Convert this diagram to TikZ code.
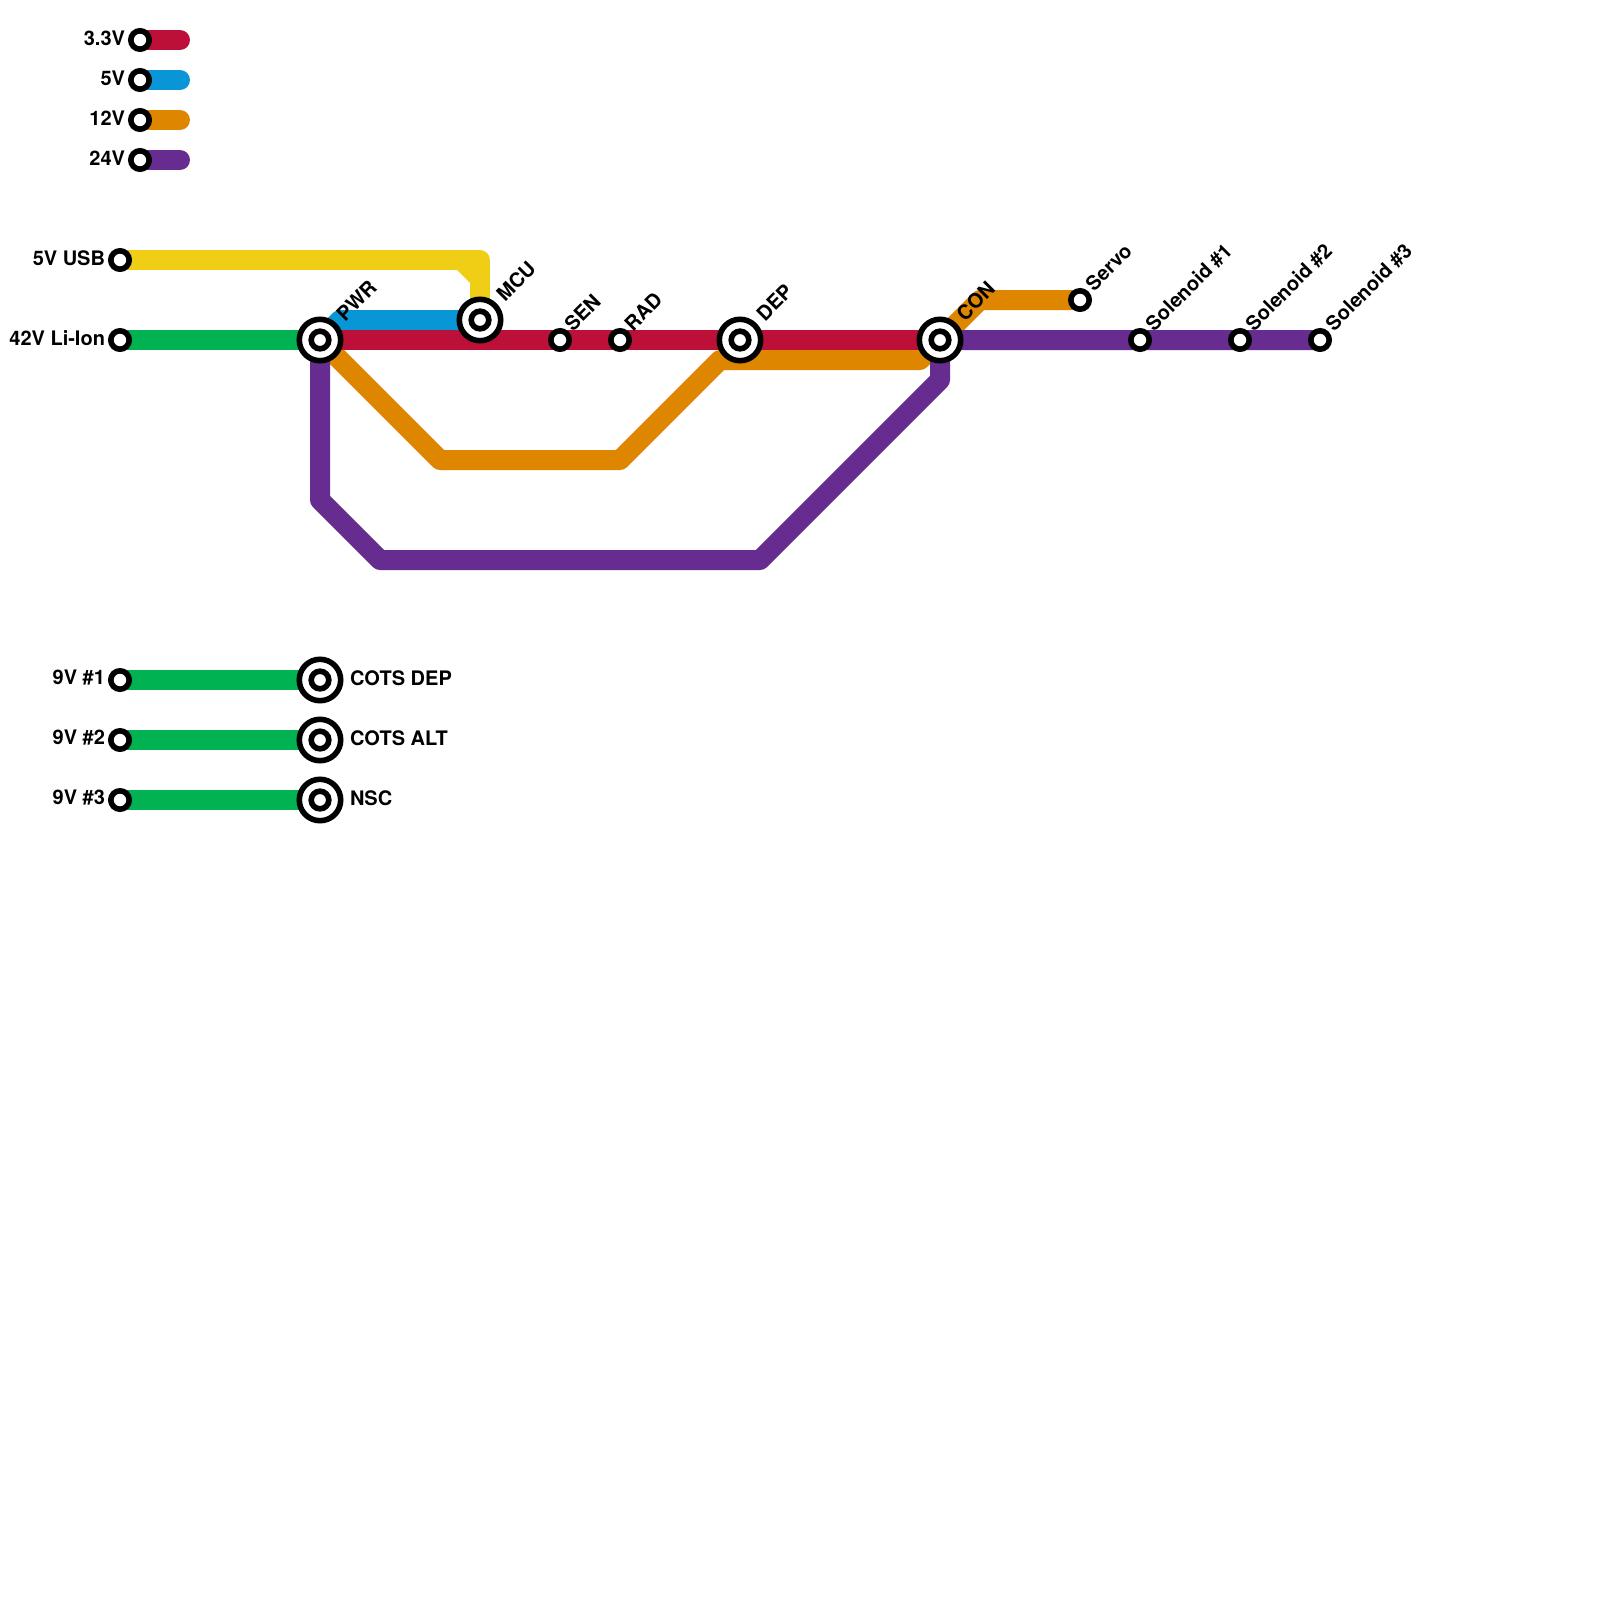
\documentclass[tikz,border=0pt]{standalone}
\usepackage{fontspec}
\setmainfont{TeX Gyre Heros}
\pgfdeclarelayer{lines}
\pgfsetlayers{lines,main}
\definecolor{cred}{HTML}{BD1038}
\definecolor{cblue}{HTML}{0896D7}
\definecolor{corange}{HTML}{DF8600}
\definecolor{cpurple}{HTML}{662C90}
\definecolor{cyellow}{HTML}{F0CE15}
\definecolor{cgreen}{HTML}{00B251}
\tikzset{
  x=0.5pt,y=-0.5pt,
  stop/.style={circle,draw=black,fill=white,line width=2.8pt,inner sep=0pt,outer sep=0pt,minimum size=9.2pt},
  hub/.style={circle,draw=black,fill=white,line width=2.8pt,inner sep=0pt,outer sep=0pt,minimum size=20.7pt,
    path picture={\draw[black,line width=2.8pt] (path picture bounding box.center) circle[radius=4.4pt];}},
  metro/.style={line width=10pt,line join=round,line cap=round},
  txt/.style={font=\bfseries\fontsize{10pt}{12pt}\selectfont,text=black,inner sep=0pt,outer sep=0pt},
  lft/.style={txt,anchor=east},
  rgt/.style={txt,anchor=west},
  dia/.style={txt,anchor=base west,rotate=45},
}
\begin{document}
\begin{tikzpicture}
\useasboundingbox (0,0) rectangle (1600,1600);
% legend
\node[stop] (l33) at (140,40) {};
\node[stop] (l5) at (140,80) {};
\node[stop] (l12) at (140,120) {};
\node[stop] (l24) at (140,160) {};
\coordinate (e33) at (180,40);
\coordinate (e5) at (180,80);
\coordinate (e12) at (180,120);
\coordinate (e24) at (180,160);
\node[lft] (t33) at (125,38) {3.3V};
\node[lft] (t5) at (125,78) {5V};
\node[lft] (t12) at (125,118) {12V};
\node[lft] (t24) at (125,158) {24V};
% stations
\node[stop] (usb) at (120,260) {};
\node[stop] (lion) at (120,340) {};
\node[hub] (pwr) at (320,340) {};
\node[hub] (mcu) at (480,320) {};
\node[stop] (sen) at (560,340) {};
\node[stop] (rad) at (620,340) {};
\node[hub] (dep) at (740,340) {};
\node[hub] (con) at (940,340) {};
\node[stop] (servo) at (1080,300) {};
\node[stop] (sol1) at (1140,340) {};
\node[stop] (sol2) at (1240,340) {};
\node[stop] (sol3) at (1320,340) {};
\node[stop] (n1) at (120,680) {};
\node[stop] (n2) at (120,740) {};
\node[stop] (n3) at (120,800) {};
\node[hub] (cd) at (320,680) {};
\node[hub] (ca) at (320,740) {};
\node[hub] (nsc) at (320,800) {};
% labels
\node[lft] (tusb) at (105,258) {5V USB};
\node[lft] (tlion) at (105,338) {42V Li-Ion};
\node[lft] (tn1) at (105,678) {9V \#1};
\node[lft] (tn2) at (105,738) {9V \#2};
\node[lft] (tn3) at (105,798) {9V \#3};
\node[rgt] (tcd) at (350,678) {COTS DEP};
\node[rgt] (tca) at (350,738) {COTS ALT};
\node[rgt] (tnsc) at (350,798) {NSC};
\node[dia] (tpwr) at (345,322) {PWR};
\node[dia] (tmcu) at (505,302) {MCU};
\node[dia] (tsen) at (573,332) {SEN};
\node[dia] (trad) at (633,332) {RAD};
\node[dia] (tdep) at (765,322) {DEP};
\node[dia] (tcon) at (965,322) {CON};
\node[dia] (tservo) at (1094,292) {Servo};
\node[dia] (tsol1) at (1154,332) {Solenoid \#1};
\node[dia] (tsol2) at (1254,332) {Solenoid \#2};
\node[dia] (tsol3) at (1334,332) {Solenoid \#3};
% lines
\begin{pgfonlayer}{lines}
\draw[metro,cred] (l33.center) -- (e33);
\draw[metro,cblue] (l5.center) -- (e5);
\draw[metro,corange] (l12.center) -- (e12);
\draw[metro,cpurple] (l24.center) -- (e24);
\draw[metro,cyellow] (usb.center) -- (480,260) -- (mcu.center);
\fill[cyellow] (456,269) -- (471,269) -- (471,284) -- cycle;
\draw[metro,cgreen] (lion.center) -- (pwr.center);
\draw[metro,cgreen] (n1.center) -- (cd.center);
\draw[metro,cgreen] (n2.center) -- (ca.center);
\draw[metro,cgreen] (n3.center) -- (nsc.center);
\draw[metro,cblue] (pwr.center) -- (340,320) -- (mcu.center);
\draw[metro,corange] (pwr.center) -- (440,460) -- (620,460) -- (720,360) -- (920,360) -- (con.center) -- (980,300) -- (servo.center);
\draw[metro,cpurple] (pwr.center) -- (320,500) -- (380,560) -- (760,560) -- (940,380) -- (con.center) -- (sol1.center) -- (sol2.center) -- (sol3.center);
\draw[metro,cred] (pwr.center) -- (sen.center) -- (rad.center) -- (dep.center) -- (con.center);
\end{pgfonlayer}
\end{tikzpicture}
\end{document}
